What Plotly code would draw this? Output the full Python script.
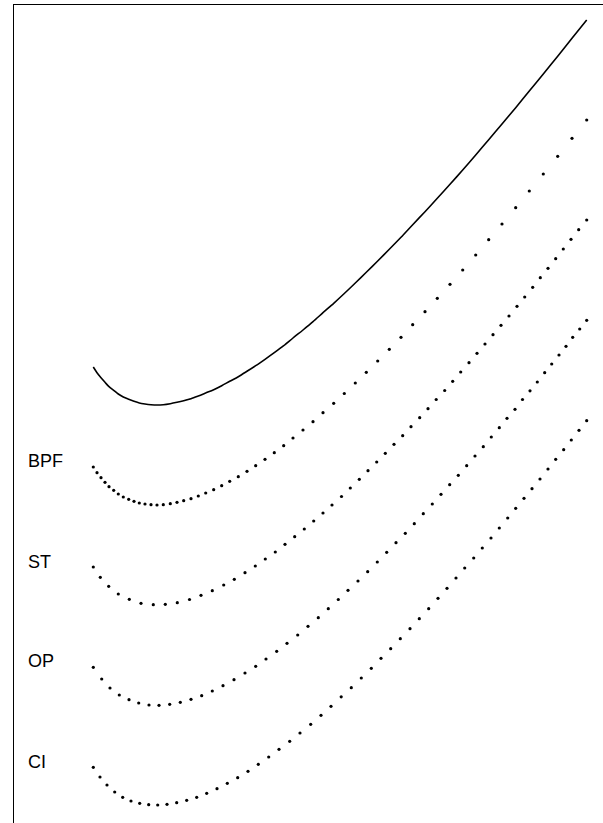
import plotly.graph_objects as go

# Readings (horizontal position, vertical position measured downward from top)
solid_x = [93.3, 97.0, 101.0, 105.0, 109.0, 113.7, 118.3, 123.3, 128.7, 134.0, 139.3, 145.0, 151.0, 157.0,
           163.3, 170.3, 177.0, 183.7, 191.0, 198.3, 205.7, 213.7, 221.7, 229.7, 238.3, 247.0, 255.7, 265.0,
           274.3, 283.7, 293.0, 303.0, 313.0, 323.0, 333.7, 344.3, 355.3, 366.3, 377.7, 389.3, 401.0, 412.7,
           425.0, 437.3, 450.0, 462.7, 475.7, 488.7, 502.0, 515.7, 529.3, 543.3, 557.7, 572.0, 586.7]
solid_y = [367.0, 372.7, 377.7, 382.3, 386.7, 390.3, 394.0, 397.0, 399.3, 401.3, 403.0, 404.0, 404.7, 405.0,
           404.7, 403.7, 402.3, 400.7, 398.7, 396.0, 393.0, 389.7, 385.7, 381.3, 376.7, 371.3, 365.7, 359.3,
           352.7, 345.7, 338.0, 330.0, 321.7, 312.7, 303.3, 293.5, 283.0, 272.3, 261.0, 249.3, 237.3, 224.7,
           211.7, 198.3, 184.3, 170.0, 155.0, 139.7, 124.0, 107.7, 91.0, 74.0, 56.3, 38.3, 20.0]

bpf_x = [93.3, 97.0, 101.0, 105.0, 109.0, 113.7, 118.3, 123.3, 128.7, 134.0, 139.3, 145.0, 151.0, 157.0,
         163.3, 170.3, 177.0, 183.7, 191.0, 198.3, 205.7, 213.7, 221.7, 229.7, 238.3, 247.0, 255.7, 265.0,
         274.3, 283.7, 293.0, 303.0, 313.0, 323.0, 333.7, 344.3, 355.3, 366.3, 377.7, 389.3, 401.0, 412.7,
         425.0, 437.3, 450.0, 462.7, 475.7, 488.7, 502.0, 515.7, 529.3, 543.3, 557.7, 572.0, 586.7]
bpf_y = [467.0, 472.7, 477.7, 482.3, 486.7, 490.3, 494.0, 497.0, 499.3, 501.3, 503.0, 504.0, 504.7, 505.0,
         504.7, 503.7, 502.3, 500.7, 498.7, 496.0, 493.0, 489.7, 485.7, 481.3, 476.7, 471.3, 465.7, 459.3,
         452.7, 445.7, 438.0, 430.0, 421.7, 412.7, 403.3, 393.5, 383.0, 372.3, 361.0, 349.3, 337.3, 324.7,
         311.7, 298.3, 284.3, 270.0, 255.0, 239.7, 224.0, 207.7, 191.0, 174.0, 156.3, 138.3, 120.0]

st_x = [93.3, 100.3, 108.7, 118.3, 129.3, 141.0, 153.3, 165.3, 177.3, 189.5, 201.0, 212.3, 223.7, 234.3,
        245.0, 255.3, 265.3, 275.3, 285.0, 294.7, 304.3, 313.7, 323.0, 332.0, 341.5, 350.3, 359.3, 368.0,
        376.7, 385.3, 394.0, 402.7, 411.0, 419.7, 428.0, 436.2, 444.7, 452.7, 460.7, 469.0, 477.0, 485.0,
        493.0, 501.0, 509.0, 517.0, 524.7, 532.7, 540.3, 548.0, 555.7, 563.3, 571.0, 578.7, 586.7]
st_y = [567.0, 577.3, 586.3, 594.0, 599.3, 603.3, 604.7, 604.3, 602.7, 599.5, 595.3, 590.7, 585.0, 579.3,
        572.7, 566.0, 559.0, 552.0, 544.3, 536.7, 529.0, 521.0, 513.0, 505.0, 496.5, 488.0, 479.3, 470.7,
        462.0, 453.3, 444.3, 435.7, 426.7, 417.7, 408.7, 399.5, 390.5, 381.3, 372.0, 362.7, 353.3, 344.0,
        334.7, 325.3, 316.0, 306.3, 297.0, 287.3, 277.7, 268.3, 258.7, 249.0, 239.3, 229.7, 220.0]

op_x = [93.3, 101.7, 110.0, 119.3, 129.0, 138.7, 149.0, 159.0, 169.7, 180.3, 191.0, 201.7, 212.3, 223.0,
        234.0, 245.0, 255.7, 266.0, 276.7, 287.0, 297.7, 308.0, 318.3, 328.3, 338.3, 348.0, 358.0, 367.7,
        377.3, 386.7, 396.0, 405.3, 414.3, 423.3, 432.3, 441.0, 449.7, 458.3, 466.7, 475.0, 483.3, 491.3,
        499.3, 507.0, 515.0, 522.5, 530.0, 537.3, 544.7, 551.7, 559.0, 566.0, 572.7, 579.7, 586.7]
op_y = [667.3, 679.0, 688.0, 695.0, 699.7, 703.0, 705.0, 705.3, 704.3, 702.3, 699.3, 695.7, 691.0, 685.7,
        679.7, 673.0, 666.3, 659.0, 651.3, 643.3, 635.0, 626.3, 617.7, 608.7, 599.5, 590.3, 581.0, 571.7,
        562.0, 552.3, 542.7, 533.3, 523.7, 513.7, 504.0, 494.3, 484.7, 475.3, 465.7, 456.0, 446.7, 437.0,
        427.7, 418.3, 409.3, 399.5, 390.8, 382.0, 372.7, 364.0, 355.0, 346.3, 337.3, 329.0, 320.3]

ci_x = [93.3, 100.0, 107.0, 114.7, 122.7, 131.0, 139.7, 148.7, 157.7, 167.0, 176.7, 186.7, 196.7, 206.7,
        217.0, 227.3, 237.7, 248.0, 258.3, 268.7, 279.0, 289.7, 300.0, 310.7, 321.0, 331.0, 341.2, 351.3,
        361.3, 371.3, 381.0, 390.7, 400.3, 410.0, 419.3, 428.7, 438.0, 447.0, 456.0, 464.7, 473.7, 482.3,
        491.0, 499.3, 507.7, 515.7, 524.0, 532.0, 540.0, 548.0, 555.7, 563.7, 571.3, 579.0, 586.7]
ci_y = [767.3, 777.0, 785.0, 792.0, 797.3, 801.0, 803.3, 804.7, 805.0, 804.3, 802.7, 800.3, 797.3, 793.3,
        788.7, 783.3, 777.7, 771.3, 764.3, 757.0, 749.3, 741.3, 733.0, 724.3, 715.3, 706.3, 696.8, 687.7,
        678.0, 668.3, 658.3, 648.7, 638.7, 628.7, 618.7, 608.7, 598.3, 588.3, 578.0, 568.0, 558.0, 548.0,
        538.0, 528.0, 518.0, 508.3, 498.3, 488.7, 479.0, 469.0, 459.3, 449.7, 440.0, 430.3, 420.7]

labels = ["BPF", "ST", "OP", "CI"]
label_x = [26, 26, 26, 26]
label_y = [461, 562, 661, 762]

fig = go.Figure()
fig.add_trace(go.Scatter(x=solid_x, y=solid_y, mode="lines",
                         line=dict(color="black", width=1.6, shape="spline", smoothing=0.8),
                         showlegend=False, hoverinfo="skip"))
for xs, ys in [(bpf_x, bpf_y), (st_x, st_y), (op_x, op_y), (ci_x, ci_y)]:
    fig.add_trace(go.Scatter(x=xs, y=ys, mode="markers",
                             marker=dict(color="black", size=3.2),
                             showlegend=False, hoverinfo="skip"))

for t, lx, ly in zip(labels, label_x, label_y):
    fig.add_annotation(x=lx, y=ly, xref="x", yref="y", text=t, showarrow=False,
                       xanchor="left", yanchor="middle",
                       font=dict(family="Liberation Sans, Arial, sans-serif", size=18, color="black"))

fig.update_layout(
    width=603, height=823,
    margin=dict(l=14, r=0, t=5, b=0, pad=0),
    paper_bgcolor="white", plot_bgcolor="white",
    hovermode=False,
    xaxis=dict(range=[14, 603], side="top", showline=True, linecolor="black", linewidth=1.3,
               showgrid=False, zeroline=False, showticklabels=False, ticks=""),
    yaxis=dict(range=[823, 5], showline=True, linecolor="black", linewidth=1.3,
               showgrid=False, zeroline=False, showticklabels=False, ticks=""),
)

fig.write_html("out.html", config={"displayModeBar": False},
               post_script="document.body.style.margin='0';document.body.style.overflow='hidden';")
